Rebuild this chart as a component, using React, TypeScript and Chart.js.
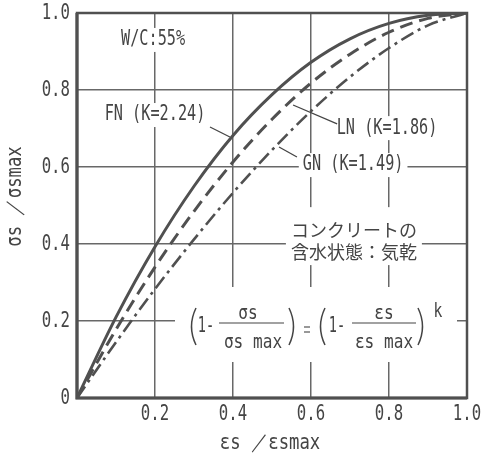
import React, { useEffect, useRef } from "react";
import { Chart, registerables } from "chart.js";

Chart.register(...registerables);

// ---- data ----
const strainRatio = [0, 0.1, 0.2, 0.3, 0.4, 0.5, 0.6, 0.7, 0.8, 0.9, 1.0];
const fnStress = [0, 0.21, 0.393, 0.55, 0.682, 0.788, 0.872, 0.933, 0.973, 0.994, 1.0];
const lnStress = [0, 0.178, 0.34, 0.485, 0.613, 0.724, 0.818, 0.893, 0.95, 0.986, 1.0];
const gnStress = [0, 0.145, 0.283, 0.412, 0.533, 0.644, 0.745, 0.834, 0.909, 0.968, 1.0];
const xTickValues = [0.2, 0.4, 0.6, 0.8, 1.0];
const xTickLabels = ["0.2", "0.4", "0.6", "0.8", "1.0"];
const yTickValues = [0, 0.2, 0.4, 0.6, 0.8, 1.0];
const yTickLabels = ["0", "0.2", "0.4", "0.6", "0.8", "1.0"];
const seriesLabels = ["FN (K=2.24)", "LN (K=1.86)", "GN (K=1.49)"];
const noteWC = "W/C:55%";
const noteJa1 = "コンクリートの";
const noteJa2 = "含水状態：気乾";
const xTitle = "εs ／εsmax";
const yTitle = "σs ／σsmax";

const INK = "#444444";
const LINE = "#505050";
const GRID = "#686868";
const MONO = '"DejaVu Sans Mono", monospace';

type TOpt = { size: number; family?: string; sx?: number; sy?: number; align?: CanvasTextAlign; color?: string };

function txt(ctx: CanvasRenderingContext2D, s: string, x: number, y: number, o: TOpt) {
  ctx.save();
  ctx.translate(x, y);
  ctx.scale(o.sx ?? 1, o.sy ?? 1);
  ctx.font = `${o.size}px ${o.family ?? MONO}`;
  ctx.textAlign = o.align ?? "center";
  ctx.textBaseline = "middle";
  ctx.fillStyle = o.color ?? INK;
  ctx.fillText(s, 0, 0);
  ctx.restore();
}

function line(ctx: CanvasRenderingContext2D, x1: number, y1: number, x2: number, y2: number, w = 1.3) {
  ctx.save();
  ctx.strokeStyle = INK;
  ctx.lineWidth = w;
  ctx.beginPath();
  ctx.moveTo(x1, y1);
  ctx.lineTo(x2, y2);
  ctx.stroke();
  ctx.restore();
}

function paren(ctx: CanvasRenderingContext2D, x: number, top: number, bot: number, open: boolean) {
  ctx.save();
  ctx.strokeStyle = INK;
  ctx.lineWidth = 1.5;
  ctx.beginPath();
  const bulge = open ? -9 : 9;
  ctx.moveTo(x, top);
  ctx.quadraticCurveTo(x + bulge, (top + bot) / 2, x, bot);
  ctx.stroke();
  ctx.restore();
}

function whiteBox(ctx: CanvasRenderingContext2D, x1: number, y1: number, x2: number, y2: number) {
  ctx.save();
  ctx.fillStyle = "#ffffff";
  ctx.fillRect(x1, y1, x2 - x1, y2 - y1);
  ctx.restore();
}

const LBL: TOpt = { size: 16, sx: 0.95, sy: 1.3 };

const notesPlugin = {
  id: "notes",
  beforeDatasetsDraw(chart: any) {
    const ctx: CanvasRenderingContext2D = chart.ctx;
    const xs = chart.scales.x;
    const ys = chart.scales.y;
    const P = (xv: number, yv: number) => [xs.getPixelForValue(xv), ys.getPixelForValue(yv)];

    const labelled = (s: string, xv: number, yv: number) => {
      const [cx, cy] = P(xv, yv);
      ctx.save();
      ctx.font = `${LBL.size}px ${MONO}`;
      const w = ctx.measureText(s).width * (LBL.sx ?? 1);
      ctx.restore();
      whiteBox(ctx, cx - w / 2 - 4, cy - 12, cx + w / 2 + 4, cy + 12);
      txt(ctx, s, cx, cy, LBL);
    };

    labelled(noteWC, 0.195, 0.93);
    labelled(seriesLabels[0], 0.2, 0.735);
    labelled(seriesLabels[1], 0.795, 0.701);
    labelled(seriesLabels[2], 0.708, 0.605);

    // leader lines
    let a = P(0.341, 0.704), b = P(0.392, 0.678);
    line(ctx, a[0], a[1], b[0], b[1]);
    a = P(0.667, 0.712); b = P(0.554, 0.761);
    line(ctx, a[0], a[1], b[0], b[1]);
    a = P(0.564, 0.626); b = P(0.518, 0.652);
    line(ctx, a[0], a[1], b[0], b[1]);

    // Japanese note
    const [jx, jy1] = P(0.71, 0.436);
    const [, jy2] = P(0.71, 0.379);
    whiteBox(ctx, jx - 68, jy1 - 23, jx + 68, jy2 + 13);
    const JA: TOpt = { size: 18, family: '"Noto Sans CJK JP", sans-serif', sx: 1.0, sy: 1.0 };
    txt(ctx, noteJa1, jx, jy1, JA);
    txt(ctx, noteJa2, jx, jy2, JA);

    // formula, anchored at (0.6, 0.2)
    const [fx, fy] = P(0.6, 0.2);
    whiteBox(ctx, fx - 136, fy - 34, fx + 146, fy + 41);
    const F: TOpt = { size: 14, sx: 1.15, sy: 1.35 };
    const ONE: TOpt = { size: 16, sx: 0.85, sy: 1.35 };
    paren(ctx, fx - 115, fy - 13, fy + 24, true);
    txt(ctx, "1-", fx - 105, fy + 5, ONE);
    line(ctx, fx - 92, fy + 2, fx - 27, fy + 2, 1.1);
    txt(ctx, "σs", fx - 63, fy - 7, F);
    txt(ctx, "σs max", fx - 58, fy + 22, F);
    paren(ctx, fx - 22, fy - 13, fy + 24, false);
    line(ctx, fx - 7, fy + 6, fx - 1, fy + 6, 1.1);
    line(ctx, fx - 7, fy + 11, fx - 1, fy + 11, 1.1);
    paren(ctx, fx + 14, fy - 13, fy + 24, true);
    txt(ctx, "1-", fx + 26, fy + 5, ONE);
    line(ctx, fx + 41, fy + 2, fx + 105, fy + 2, 1.1);
    txt(ctx, "εs", fx + 73, fy - 7, F);
    txt(ctx, "εs max", fx + 73, fy + 22, F);
    paren(ctx, fx + 107, fy - 13, fy + 24, false);
    txt(ctx, "k", fx + 127, fy - 9, { size: 14, sx: 1.05, sy: 1.35 });
  },
  afterDatasetsDraw(chart: any) {
    const ctx: CanvasRenderingContext2D = chart.ctx;
    const { left, right, top, bottom } = chart.chartArea;
    ctx.save();
    ctx.strokeStyle = LINE;
    ctx.lineWidth = 2.5;
    ctx.strokeRect(left, top, right - left, bottom - top);
    ctx.lineWidth = 3.2;
    ctx.beginPath();
    ctx.moveTo(left, top);
    ctx.lineTo(left, bottom);
    ctx.lineTo(right, bottom);
    ctx.stroke();
    ctx.restore();
  },
  afterDraw(chart: any) {
    const ctx: CanvasRenderingContext2D = chart.ctx;
    const xs = chart.scales.x;
    const ys = chart.scales.y;
    const { left, bottom, top } = chart.chartArea;
    const TK: TOpt = { size: 16, sx: 0.98, sy: 1.32 };
    xTickValues.forEach((v, i) => {
      txt(ctx, xTickLabels[i], xs.getPixelForValue(v), bottom + 17, TK);
    });
    yTickValues.forEach((v, i) => {
      txt(ctx, yTickLabels[i], left - 7, ys.getPixelForValue(v) + 1, { ...TK, align: "right" });
    });
    // axis titles
    txt(ctx, xTitle, xs.getPixelForValue(0.5) - 2, bottom + 46, { size: 16, sx: 1.08, sy: 1.3 });
    ctx.save();
    ctx.translate(16, (top + bottom) / 2 - 9);
    ctx.rotate(-Math.PI / 2);
    txt(ctx, yTitle, 0, 0, { size: 16, sx: 1.08, sy: 1.3 });
    ctx.restore();
  },
};

export default function App() {
  const ref = useRef<HTMLCanvasElement | null>(null);
  useEffect(() => {
    document.body.style.margin = "0";
    const canvas = ref.current!;
    const mk = (vals: number[]) => strainRatio.map((x, i) => ({ x, y: vals[i] }));
    const chart = new Chart(canvas, {
      type: "line",
      data: {
        datasets: [
          {
            label: seriesLabels[0],
            data: mk(fnStress),
            borderColor: LINE,
            borderWidth: 3,
            pointRadius: 0,
            cubicInterpolationMode: "monotone",
            fill: false,
          },
          {
            label: seriesLabels[1],
            data: mk(lnStress),
            borderColor: LINE,
            borderWidth: 3,
            borderDash: [13, 7],
            pointRadius: 0,
            cubicInterpolationMode: "monotone",
            fill: false,
          },
          {
            label: seriesLabels[2],
            data: mk(gnStress),
            borderColor: LINE,
            borderWidth: 2.6,
            borderDash: [14, 5, 3, 5],
            pointRadius: 0,
            cubicInterpolationMode: "monotone",
            fill: false,
          },
        ],
      },
      options: {
        responsive: false,
        animation: false,
        devicePixelRatio: 1,
        layout: { padding: { top: 13, right: 20, left: 0, bottom: 0 } },
        plugins: { legend: { display: false }, tooltip: { enabled: false } },
        scales: {
          x: {
            type: "linear",
            min: 0,
            max: 1,
            ticks: { display: false, stepSize: 0.2 },
            grid: { color: GRID, lineWidth: 1.5, drawTicks: false },
            border: { display: false },
            afterFit: (s: any) => {
              s.height = 57;
            },
          },
          y: {
            type: "linear",
            min: 0,
            max: 1,
            ticks: { display: false, stepSize: 0.2 },
            grid: { color: GRID, lineWidth: 1.5, drawTicks: false },
            border: { display: false },
            afterFit: (s: any) => {
              s.width = 77;
            },
          },
        },
      } as any,
      plugins: [notesPlugin as any],
    });
    return () => chart.destroy();
  }, []);
  return (
    <div style={{ width: 487, height: 455, overflow: "hidden", background: "#fff" }}>
      <canvas ref={ref} width={487} height={455} style={{ display: "block" }} />
    </div>
  );
}
